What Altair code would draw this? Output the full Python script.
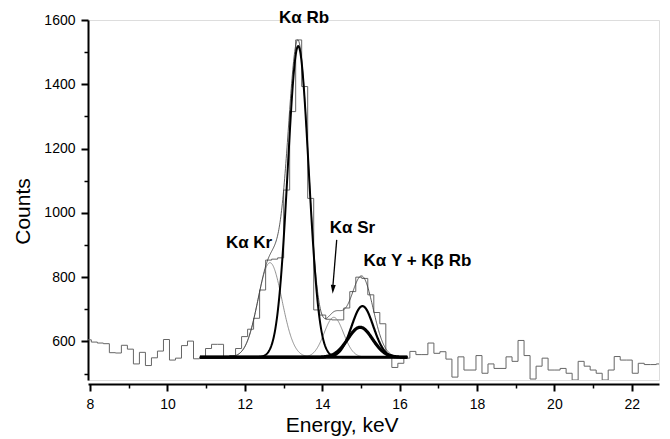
import altair as alt
import numpy as np
import pandas as pd

# ---------------- data ----------------
# spectrum histogram: counts per channel, channels of equal width
bin_start = 7.879          # keV, left edge of first channel
bin_width = 0.1553         # keV
counts = [605, 598, 595, 593, 565, 564, 588, 576, 530, 566,
          525, 549, 570, 606, 542, 548, 587, 601, 546, 550,
          578, 591, 591, 553, 556, 578, 615, 638, 672, 760,
          853, 856, 860, 1071, 1315, 1538, 1393, 1045, 698, 682,
          669, 667, 667, 704, 755, 800, 796, 745, 690, 655,
          558, 519, 532, 548, 569, 559, 559, 595, 563, 568,
          545, 489, 552, 511, 511, 556, 501, 530, 516, 516,
          552, 538, 603, 556, 483, 523, 548, 511, 511, 516,
          501, 480, 538, 523, 511, 501, 480, 511, 553, 542,
          542, 501, 532, 528, 528, 530]

# fitted model: flat background + gaussian peaks
fit_range = [10.84, 16.2]
background = 551
peak_names = ["Kr", "Rb", "Sr", "Y", "KbRb"]
peak_centers = [12.65, 13.38, 14.30, 15.04, 14.98]
peak_heights = [294, 968, 124, 159, 93]
peak_sigmas = [0.31, 0.27, 0.25, 0.28, 0.32]

# annotations
label_texts = ["Kα Rb", "Kα Kr", "Kα Sr", "Kα Y + Kβ Rb"]
label_E = [13.53, 12.11, 14.78, 16.46]
label_C = [1590, 890, 937, 836]
arrow_E = [14.375, 14.275]
arrow_C = [916, 770]
arrow_head_E = [14.278]
arrow_head_C = [762]

x_ticks = list(range(8, 23))
y_ticks = list(range(500, 1700, 100))

# ---------------- tables ----------------
edges = [bin_start + i * bin_width for i in range(len(counts) + 1)]
hist = pd.DataFrame({"E": edges, "C": counts + [counts[-1]]})

grid = np.linspace(fit_range[0], fit_range[1], 537)
rows = []
total = np.full_like(grid, background, dtype=float)
for n, c, h, s in zip(peak_names, peak_centers, peak_heights, peak_sigmas):
    g = h * np.exp(-((grid - c) ** 2) / (2 * s * s))
    total = total + g
    for e, v in zip(grid, background + g):
        rows.append({"E": e, "C": v, "comp": n})
for e, v in zip(grid, total):
    rows.append({"E": e, "C": v, "comp": "sum"})
curves = pd.DataFrame(rows)
base_df = pd.DataFrame({"E": fit_range, "C": [background, background]})
labels = pd.DataFrame({"E": label_E, "C": label_C, "t": label_texts})
arrow = pd.DataFrame({"E": arrow_E, "C": arrow_C})
head = pd.DataFrame({"E": arrow_head_E, "C": arrow_head_C})

FONT = "Liberation Sans"

x_axis = alt.Axis(
    values=x_ticks,
    labelExpr="datum.value % 2 == 0 ? datum.label : ''",
    tickSize={"condition": {"test": "datum.value % 2 == 0", "value": 7}, "value": 4},
    tickWidth={"condition": {"test": "datum.value % 2 == 0", "value": 2}, "value": 1.5},
    grid=False, offset=4, domainWidth=2, domainColor="black", tickColor="black",
    labelFont=FONT, labelFontSize=14, labelColor="black", labelPadding=6,
    title="Energy, keV", titleFont=FONT, titleFontSize=21, titleFontWeight="normal",
    titleColor="black", titleX=253.7, titleY=47, titleAlign="center",
    titleBaseline="alphabetic", format="d",
)
y_axis = alt.Axis(
    values=y_ticks,
    labelExpr="datum.value % 200 == 0 ? datum.label : ''",
    tickSize={"condition": {"test": "datum.value % 200 == 0", "value": 7}, "value": 4},
    tickWidth={"condition": {"test": "datum.value % 200 == 0", "value": 2}, "value": 1.5},
    grid=False, domainWidth=2, domainColor="black", tickColor="black",
    labelFont=FONT, labelFontSize=14, labelColor="black", labelPadding=6,
    title="Counts", titleFont=FONT, titleFontSize=21, titleFontWeight="normal",
    titleColor="black", titleX=-59, titleY=191, titleAngle=270, titleAlign="center",
    titleBaseline="alphabetic", format="d",
)
xs = alt.Scale(domain=[7.948, 22.703], nice=False, zero=False)
ys = alt.Scale(domain=[480, 1600], nice=False, zero=False)


def X():
    return alt.X("E:Q", scale=xs, axis=x_axis)


def Y():
    return alt.Y("C:Q", scale=ys, axis=y_axis)


hist_l = alt.Chart(hist).mark_line(interpolate="step-after", color="#666666",
                                   strokeWidth=1, clip=True).encode(x=X(), y=Y())


def curve(comp, color, width):
    return alt.Chart(curves).transform_filter(alt.datum.comp == comp).mark_line(
        color=color, strokeWidth=width).encode(x=X(), y=Y(), order="E:Q")


layers = [
    hist_l,
    curve("Kr", "#777777", 0.8),
    curve("Sr", "#777777", 0.8),
    curve("sum", "#333333", 0.8),
    curve("Rb", "black", 2),
    curve("Y", "black", 2.2),
    curve("KbRb", "black", 3.2),
    alt.Chart(base_df).mark_line(color="black", strokeWidth=3).encode(x=X(), y=Y()),
    alt.Chart(arrow).mark_line(color="black", strokeWidth=1.3).encode(x=X(), y=Y()),
    alt.Chart(head).mark_point(shape="M-0.55,-1L0.55,-1L0,1Z", size=81, filled=True,
                               color="black", opacity=1, angle=4).encode(x=X(), y=Y()),
    alt.Chart(labels).mark_text(font=FONT, fontSize=17, fontWeight="bold", color="black",
                                align="center", baseline="alphabetic").encode(
        x=X(), y=Y(), text="t:N"),
]

chart = alt.layer(*layers).properties(
    width=571, height=360,
    padding={"left": 80, "top": 12, "right": 3, "bottom": 60},
    autosize=alt.AutoSizeParams(type="none"),
).configure_view(stroke=None).configure(background="white")

chart.save("out.html", embed_options={"renderer": "svg", "actions": False})
